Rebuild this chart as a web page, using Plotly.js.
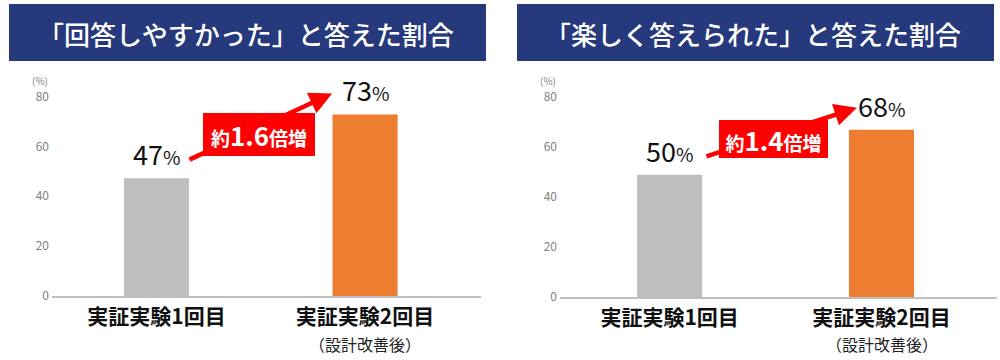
<!DOCTYPE html>
<html>
<head>
<meta charset="utf-8">
<script src="https://cdn.plot.ly/plotly-3.0.1.min.js"></script>
<style>html,body{margin:0;padding:0;background:#fff;}#chart{width:1000px;height:360px;}</style>
</head>
<body>
<div id="chart"></div>
<script>
// ---- data ----
const categories = ['実証実験1回目', '実証実験2回目'];
const categoryNotes = ['', '（設計改善後）'];
const yTicks = [0, 20, 40, 60, 80];
const leftTitle = '「回答しやすかった」と答えた割合';
const rightTitle = '「楽しく答えられた」と答えた割合';
const leftValues = [47.2, 72.8];
const rightValues = [48.8, 66.8];
const leftLabels = ['47', '73'];
const rightLabels = ['50', '68'];
const leftRatio = '1.6';
const rightRatio = '1.4';
const unitLabel = '(%)';

// ---- style ----
const FONT = '"Noto Sans CJK JP", "Noto Sans", sans-serif';
const NAVY = '#25397c';
const BAR_COLORS = ['#bfbfbf', '#ed7d31'];
const RED = '#ff0000';
const W = 1000, H = 360;
const px = p => p / W;
const py = p => 1 - p / H;

const ticktext = categories.map(c => '<b>' + c + '</b>');

function axisX(domain, range) {
  return {
    domain: domain, range: range, type: 'linear',
    tickvals: [0, 1], ticktext: ticktext,
    tickfont: {family: FONT, size: 21, color: '#111'},
    showgrid: false, zeroline: false,
    showline: true, linecolor: '#bfbfbf', linewidth: 2,
    ticks: '', ticklabelstandoff: 1, fixedrange: true
  };
}
function axisY(domain, anchor) {
  return {
    domain: domain, range: [0, 80], anchor: anchor,
    tickvals: yTicks, ticktext: yTicks.map(String),
    tickfont: {family: FONT, size: 12, color: '#7f7f7f'},
    showgrid: false, zeroline: false, showline: false, ticks: '',
    ticklabelstandoff: 2, fixedrange: true
  };
}

const traces = [
  {type: 'bar', x: [0, 1], y: leftValues, xaxis: 'x', yaxis: 'y',
   marker: {color: BAR_COLORS}, width: 0.312, hoverinfo: 'none', cliponaxis: false},
  {type: 'bar', x: [0, 1], y: rightValues, xaxis: 'x2', yaxis: 'y2',
   marker: {color: BAR_COLORS}, width: 0.307, hoverinfo: 'none', cliponaxis: false}
];

const shapes = [
  {type: 'rect', xref: 'paper', yref: 'paper', x0: px(9), x1: px(486), y0: py(61), y1: py(4),
   fillcolor: NAVY, line: {width: 0}, layer: 'below'},
  {type: 'rect', xref: 'paper', yref: 'paper', x0: px(517), x1: px(994), y0: py(61), y1: py(4),
   fillcolor: NAVY, line: {width: 0}, layer: 'below'}
];

const annotations = [];
function addPanel(cfg) {
  // title
  annotations.push({xref: 'paper', yref: 'paper', x: cfg.titleX, y: py(33), text: cfg.title,
    showarrow: false, xanchor: 'center', yanchor: 'middle',
    font: {family: FONT, size: 26, color: '#fff', weight: 500}});
  // unit
  annotations.push({xref: 'paper', yref: 'paper', x: cfg.unitX, y: py(80.5), text: unitLabel,
    showarrow: false, xanchor: 'center', yanchor: 'middle', borderpad: 0,
    font: {family: FONT, size: 10, color: '#7f7f7f'}});
  // category notes (second line under tick labels)
  categoryNotes.forEach((n, i) => {
    if (!n) return;
    annotations.push({xref: cfg.xa, yref: 'paper', x: i, y: py(344), text: n,
      showarrow: false, xanchor: 'center', yanchor: 'middle', borderpad: 0,
      font: {family: FONT, size: 16, color: '#222'}});
  });
  // value labels
  cfg.values.forEach((v, i) => {
    annotations.push({xref: cfg.xa, yref: cfg.ya, x: i, y: v, text: cfg.labels[i] + '<span style="font-size:19px">%</span>',
      showarrow: false, xanchor: 'center', yanchor: 'bottom', yshift: 3,
      font: {family: FONT, size: 27, color: '#111'}});
  });
  // arrow
  annotations.push({xref: cfg.xa, yref: cfg.ya, axref: cfg.xa, ayref: cfg.ya,
    x: 1 - cfg.headDx, y: cfg.values[1] + cfg.headDy,
    ax: cfg.tailDx, ay: cfg.values[0] + cfg.tailDy,
    text: '', showarrow: true, arrowhead: 2, arrowsize: 1, arrowwidth: 4.5, arrowcolor: RED, standoff: 0});
  // ratio box
  annotations.push({xref: cfg.xa, yref: cfg.ya, x: 0.492, y: cfg.boxY,
    text: '<b>約<span style="font-size:26px">' + cfg.ratio + '</span>倍増</b>',
    showarrow: false, xanchor: 'center', yanchor: 'middle',
    bgcolor: RED, borderpad: 4, borderwidth: 0, width: cfg.boxW, height: cfg.boxH, valign: 'middle',
    font: {family: FONT, size: 19, color: '#fff'}});
}
addPanel({title: leftTitle, titleX: px(246), unitX: px(40), xa: 'x', ya: 'y',
  values: leftValues, labels: leftLabels, ratio: leftRatio,
  headDx: 0.158, headDy: 8.4, tailDx: 0.151, tailDy: 7.2, boxY: 64.6, boxW: 104, boxH: 35});
addPanel({title: rightTitle, titleX: px(753), unitX: px(548), xa: 'x2', ya: 'y2',
  values: rightValues, labels: rightLabels, ratio: rightRatio,
  headDx: 0.116, headDy: 8.8, tailDx: 0.167, tailDy: 7.2, boxY: 63.2, boxW: 101, boxH: 30});

const layout = {
  width: W, height: H, margin: {l: 0, r: 0, t: 0, b: 0},
  paper_bgcolor: '#fff', plot_bgcolor: 'rgba(0,0,0,0)',
  showlegend: false, font: {family: FONT},
  xaxis: axisX([px(52), px(481)], [-0.501, 1.556]),
  yaxis: axisY([1 - 296 / H, 1 - 96.5 / H], 'x'),
  xaxis2: axisX([px(560), px(997)], [-0.517, 1.545]),
  yaxis2: axisY([1 - 297 / H, 1 - 96.7 / H], 'x2'),
  shapes: shapes, annotations: annotations
};
layout.xaxis.anchor = 'y';
layout.xaxis2.anchor = 'y2';

Plotly.newPlot('chart', traces, layout, {staticPlot: true, displayModeBar: false});
</script>
</body>
</html>
